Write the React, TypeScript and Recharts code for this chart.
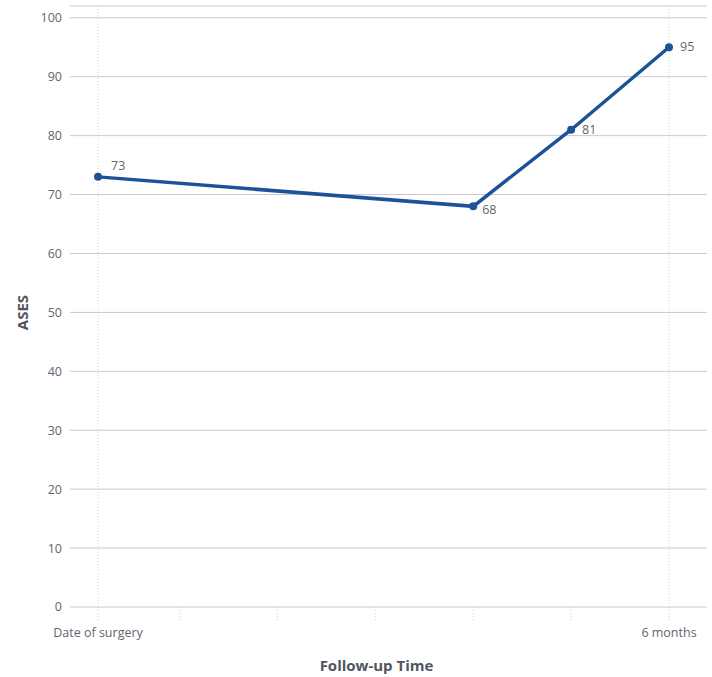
import React from "react";
import {
  LineChart,
  Line,
  XAxis,
  YAxis,
  CartesianGrid,
  ReferenceLine,
  LabelList,
} from "recharts";

// days after surgery (6 months shown at the axis end)
const days = [0, 115, 145, 175];
const ases = [73, 68, 81, 95];
const xTicks = [0, 25, 55, 85, 115, 145, 175];
const xTickLabels: Record<number, string> = { 0: "Date of surgery", 175: "6 months" };
const yTicks = [0, 10, 20, 30, 40, 50, 60, 70, 80, 90, 100];

const data = days.map((d, i) => ({ day: d, ases: ases[i] }));

const labelOffsets = [
  { dx: 13, dy: -11 },
  { dx: 9, dy: 4 },
  { dx: 11, dy: 0 },
  { dx: 11, dy: 0 },
];

const PointLabel = (props: any) => {
  const { x, y, value, index } = props;
  const o = labelOffsets[index] || { dx: 10, dy: 0 };
  return (
    <text
      x={x + o.dx}
      y={y + o.dy}
      dy={4}
      fill="#5f6670"
      fontSize={12.5}
      fontFamily="Open Sans"
    >
      {value}
    </text>
  );
};

const YTitle = (props: any) => {
  const { viewBox } = props;
  const cx = 22;
  const cy = viewBox.y + viewBox.height / 2 + 6;
  return (
    <text
      x={cx}
      y={cy}
      transform={`rotate(-90, ${cx}, ${cy})`}
      textAnchor="middle"
      dominantBaseline="central"
      fill="#4f5660"
      fontSize={15}
      fontWeight={700}
      fontFamily="Open Sans"
    >
      ASES
    </text>
  );
};

export default function App() {
  const tickStyle = { fill: "#5f6670", fontSize: 12.5, fontFamily: "Open Sans" };
  return (
    <div>
      <style>{`body { margin: 0; }`}</style>
      <LineChart
        width={712}
        height={677}
        data={data}
        margin={{ top: 6, right: 5, left: 0, bottom: 0 }}
      >
        <CartesianGrid vertical={false} stroke="#c6cacf" />
        <ReferenceLine x={0} stroke="#d0d3d6" strokeDasharray="1 2" />
        <ReferenceLine x={175} stroke="#d0d3d6" strokeDasharray="1 2" />
        <XAxis
          dataKey="day"
          type="number"
          domain={[0, 175]}
          ticks={xTicks}
          tickFormatter={(v: number) => xTickLabels[v] || ""}
          padding={{ left: 28, right: 38 }}
          axisLine={false}
          tickLine={{ stroke: "#cdd0d4", strokeDasharray: "1 2" }}
          tickSize={13}
          tickMargin={8}
          tick={tickStyle}
          height={70}
          label={{
            value: "Follow-up Time",
            position: "insideBottom",
            offset: 6,
            dx: -12,
            fill: "#4f5660",
            fontSize: 15,
            fontWeight: 700,
            fontFamily: "Open Sans",
          }}
        />
        <YAxis
          type="number"
          domain={[0, 102]}
          ticks={yTicks}
          axisLine={false}
          tickLine={false}
          tickSize={0}
          tickMargin={8}
          tick={tickStyle}
          width={70}
          label={<YTitle />}
        />
        <Line
          dataKey="ases"
          stroke="#1b5298"
          strokeWidth={3.5}
          dot={{ r: 4, fill: "#1b5298", stroke: "#1b5298", strokeWidth: 0 }}
          isAnimationActive={false}
        >
          <LabelList dataKey="ases" content={<PointLabel />} />
        </Line>
      </LineChart>
    </div>
  );
}
